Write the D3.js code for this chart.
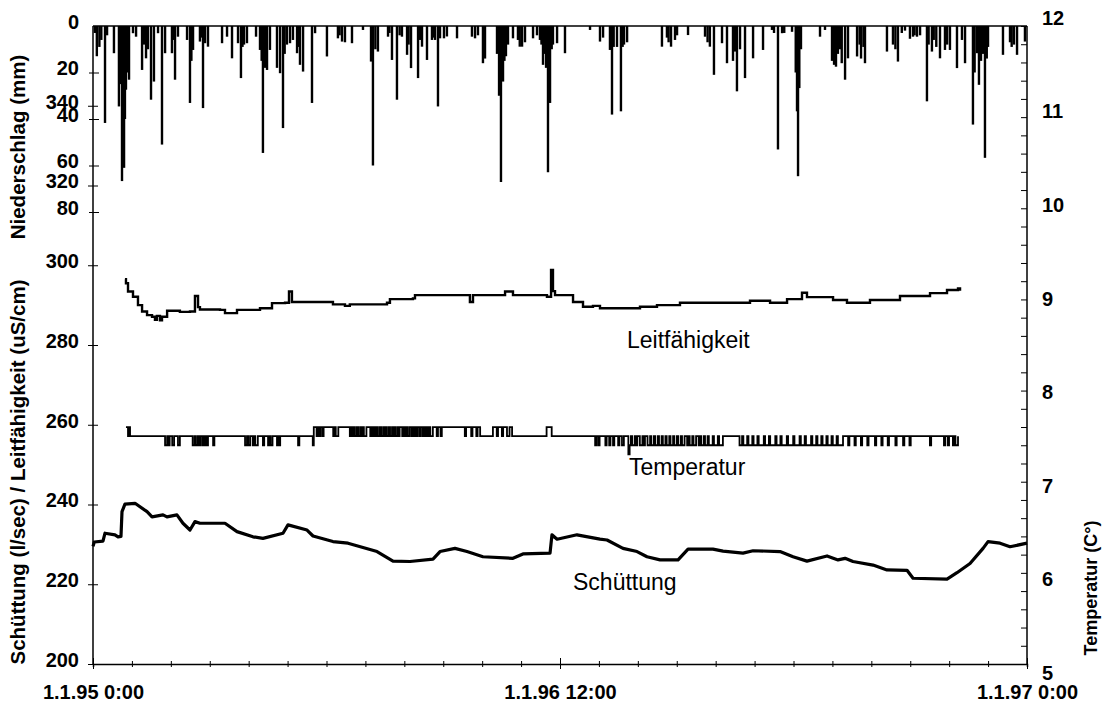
<!DOCTYPE html>
<html>
<head>
<meta charset="utf-8">
<script src="https://cdn.jsdelivr.net/npm/d3@7"></script>
<style>
  body { margin: 0; background: #fff; }
  text { font-family: "Liberation Sans", Arial, sans-serif; fill: #000; }
  .axis text { font-size: 20px; font-weight: bold; }
  .axis path, .axis line { stroke: #000; }
</style>
</head>
<body>
<svg id="chart"></svg>
<script>
// day offsets since 1.1.95 0:00
var xTickLabels = [[0, "1.1.95 0:00"], [365.5, "1.1.96 12:00"], [731, "1.1.97 0:00"]];
var leftTicks = [200, 220, 240, 260, 280, 300, 320, 340];
var precipTicks = [0, 20, 40, 60, 80];
var tempTicks = [5, 6, 7, 8, 9, 10, 11, 12];

// Niederschlag (mm): [day, mm]
var precipitation = [
  [1.5, 3], [3, 13], [5, 9], [6.5, 6], [9.4, 41.7], [11, 4], [16.4, 11.7], [20.3, 34.6], [21.5, 25],
  [22.7, 66.7], [23.5, 50], [24.3, 61], [25, 40], [25.8, 27.4], [27, 20], [28.2, 23.1], [31.3, 3.1],
  [33.7, 4.6], [38.4, 18.9], [40, 8], [41.5, 13.9], [43, 10], [45.4, 31.7], [47.7, 23.9], [50.9, 3.1],
  [54, 51], [56.4, 11.7], [61.8, 11.7], [63, 6], [64.2, 23.1], [66.5, 4.6], [73.6, 6], [75.9, 33.1],
  [77, 15], [78.3, 10.3], [83.7, 6.7], [85, 5], [86.1, 35.3], [87.7, 7.4], [90, 8.9], [101, 7.4],
  [104.9, 4.6], [108.8, 13.9], [113.5, 7.4], [115.8, 22.4], [117, 9], [118.2, 8], [120.5, 7.4],
  [127.6, 4.6], [130.7, 10.3], [132, 15], [133, 54.6], [134.5, 18], [136.2, 18.9], [138.5, 10.3],
  [144, 18], [146.4, 20.3], [148.7, 43.9], [150, 12], [151.8, 8], [154.2, 7.4], [156.5, 6],
  [159.7, 11.7], [161, 9], [162, 16.7], [164.4, 19.6], [171.4, 33.1], [173.8, 3.1], [183.1, 13.1],
  [191.7, 5.3], [193, 4], [194.9, 6.7], [197.2, 7], [202.7, 7.4], [211.3, 1.7], [217.6, 15.3],
  [219.1, 60], [221, 10], [223, 11], [230.9, 4.6], [232, 3], [234, 14.6], [237.9, 31.7], [240, 4],
  [241.8, 4.6], [245.8, 12.4], [247, 8], [248.9, 18.1], [254.4, 22.4], [256, 6], [257.5, 8.9],
  [261.4, 14.6], [265.3, 6], [266.5, 5], [267.7, 6], [270, 34.6], [271.6, 5.3], [274.7, 5.3],
  [277, 4.5], [284.9, 5.3], [296.6, 4.6], [299, 5.3], [301.3, 4], [305.2, 16], [306.8, 14],
  [316.2, 12], [317.8, 30], [319.3, 67.1], [320.9, 23.9], [322, 15], [323.2, 13], [324.8, 8],
  [328.7, 5.3], [332.6, 6], [334, 8.9], [335.8, 8.9], [338.1, 7], [344.4, 5.3], [347.5, 4],
  [349.8, 6], [351, 8], [352.2, 16.7], [353.5, 12], [354.6, 18], [356.1, 62.9], [357.7, 33.1],
  [359, 10], [360, 8], [363.2, 7.4], [369.4, 11.7], [389, 1.7], [396.8, 6.7], [399.2, 5],
  [404.6, 10.3], [406.2, 38.1], [407.5, 9], [410.1, 9], [413.2, 36.7], [414.5, 9], [415.6, 8],
  [418, 7], [445.3, 8.9], [449.2, 5], [450.5, 7], [452.4, 8.9], [455.5, 6], [457.1, 4], [465.7, 3.9],
  [479, 4.6], [481, 7], [482.8, 8.9], [486, 21], [492.3, 7.4], [496.2, 16], [500.9, 15], [502.5, 11],
  [504, 28.1], [506.4, 10], [510.3, 22.4], [516.6, 13.9], [524.4, 10.3], [531.4, 1.7], [533, 3],
  [536.1, 53.1], [539.3, 3.1], [541, 3], [547.1, 2.5], [550, 20], [551, 36.7], [551.8, 64.6],
  [552.8, 26.7], [554.1, 10], [569, 4.6], [572.9, 1.7], [578.4, 15], [580, 16.7], [581.5, 17.5],
  [583, 12], [584.6, 10], [586, 16], [588.6, 23.1], [590.9, 13.9], [598, 13.1], [600, 8], [601.1, 14],
  [603, 9], [604.2, 16], [621.4, 11], [626.1, 8], [628, 10], [630, 15.3], [633, 3], [635.5, 2],
  [639.4, 5.5], [641.8, 4.6], [643, 4], [644.9, 4.6], [647.3, 4], [652.7, 32.4], [654, 8],
  [656.6, 11], [658, 6], [660, 9], [662.9, 13.9], [666.8, 10.3], [668.5, 8], [670.7, 10.3],
  [676.2, 18.1], [680.1, 6], [682.5, 16], [688.7, 42.4], [690, 20], [691.9, 11.7], [693.4, 25.3],
  [695, 15], [696.5, 12], [698.1, 56.7], [699.5, 14], [700.5, 9], [712.2, 12.4], [717.7, 7],
  [719, 9], [720.8, 8], [723.2, 12.4], [729.4, 6.7]
];

// Leitfähigkeit (uS/cm): [day, value]
var conductivity = [
  [25, 296.5], [25.8, 295.5], [27.4, 293.4], [31.3, 292.1], [35.2, 290], [38.4, 288.4], [42.3, 287.5],
  [46.2, 287.1], [48.5, 286.3], [50, 287.3], [52.4, 286.2], [54, 287.1], [58, 288.6], [68, 288.3],
  [75.9, 288.4], [79.8, 292.3], [82.2, 289.5], [83.7, 288.9], [99.4, 288.8], [103.3, 288],
  [112.7, 288.8], [130.7, 289.2], [140.1, 290.5], [150.3, 290.6], [153.4, 293.4], [155.7, 290.8],
  [187.8, 290.2], [197.2, 289.8], [201, 290.2], [230.1, 290.6], [232.4, 291.5], [250.4, 291.7],
  [252, 292.5], [292.7, 292.5], [295, 290.8], [297.4, 292.5], [322.5, 293.4], [328.7, 292.5],
  [355.3, 292.1], [358.5, 298.8], [360, 293.5], [361.6, 292.5], [375.7, 290.8], [383.5, 289.6],
  [391.3, 289.8], [396.8, 289.2], [420.3, 289.2], [428.1, 289.6], [441.4, 290], [459.4, 290.6],
  [511.9, 290.6], [514.2, 291.1], [529.9, 290.6], [543.2, 291.5], [553.4, 291.5], [554.9, 293.1],
  [558.8, 292], [579.2, 291.3], [590.1, 290.6], [608.1, 291.3], [631.6, 292.3], [655.1, 293],
  [668.4, 293.8], [677, 294.2], [678.6, 293.6]
];

// Temperatur (°C): [day, value] step changes
var temperature = [
  [25.8, 7.6], [27.4, 7.5], [28.2, 7.6], [29, 7.5], [56.4, 7.4], [58, 7.5], [59, 7.4], [60, 7.5],
  [62, 7.4], [63.5, 7.5], [66.5, 7.4], [68, 7.5], [78, 7.4], [79.5, 7.5], [80.5, 7.4], [82, 7.5],
  [83, 7.4], [84, 7.5], [85.5, 7.4], [86.5, 7.5], [87, 7.4], [88, 7.5], [89, 7.4], [90, 7.5],
  [94, 7.4], [95, 7.5], [119, 7.4], [120.5, 7.5], [121.5, 7.4], [123, 7.5], [125, 7.4], [126, 7.5],
  [127, 7.4], [129, 7.5], [133, 7.4], [134, 7.5], [137, 7.4], [138, 7.5], [139, 7.4], [140.5, 7.5],
  [144, 7.4], [145, 7.5], [145.5, 7.4], [146.5, 7.5], [160.5, 7.4], [161.5, 7.5], [172, 7.4],
  [172.8, 7.6], [175, 7.5], [176, 7.6], [177, 7.5], [178, 7.6], [179.5, 7.5], [180.5, 7.6],
  [188, 7.5], [189, 7.6], [190, 7.5], [192, 7.6], [201, 7.5], [202, 7.6], [203, 7.5], [204, 7.6],
  [205, 7.5], [206.5, 7.6], [207.5, 7.5], [209, 7.6], [210, 7.5], [211, 7.6], [212, 7.5], [214, 7.6],
  [217, 7.5], [218, 7.6], [219, 7.5], [220, 7.6], [221, 7.5], [222, 7.6], [223, 7.5], [224.5, 7.6],
  [225.5, 7.5], [227, 7.6], [228, 7.5], [229, 7.6], [230, 7.5], [231.5, 7.6], [232.5, 7.5],
  [234, 7.6], [235, 7.5], [236, 7.6], [237, 7.5], [238.5, 7.6], [239, 7.5], [240, 7.6], [242, 7.5],
  [243, 7.6], [244, 7.5], [245, 7.6], [246, 7.5], [247.5, 7.6], [249, 7.5], [250, 7.6], [251, 7.5],
  [252, 7.6], [253, 7.5], [254, 7.6], [255.5, 7.5], [256.5, 7.6], [258, 7.5], [259, 7.6], [260, 7.5],
  [261, 7.6], [262, 7.5], [263, 7.6], [264, 7.5], [266, 7.6], [269, 7.5], [270, 7.6], [272, 7.5],
  [273, 7.6], [291, 7.5], [292, 7.6], [296, 7.5], [297, 7.6], [300, 7.5], [301, 7.6], [303, 7.5],
  [313, 7.6], [316, 7.5], [317, 7.6], [320, 7.5], [321, 7.6], [324, 7.5], [326, 7.6], [328, 7.5],
  [355, 7.6], [359, 7.5], [393, 7.4], [394, 7.5], [395.5, 7.4], [396.5, 7.5], [401, 7.4], [402, 7.5],
  [404, 7.4], [405, 7.5], [407, 7.4], [408, 7.5], [411, 7.4], [412, 7.5], [414, 7.4], [415.5, 7.5],
  [419, 7.3], [420, 7.4], [421, 7.5], [422, 7.4], [424, 7.5], [425, 7.4], [426, 7.5], [428, 7.4],
  [430, 7.5], [431, 7.4], [432, 7.5], [434, 7.4], [436, 7.5], [437, 7.4], [439, 7.5], [440, 7.4],
  [442, 7.5], [443, 7.4], [445, 7.5], [446, 7.4], [448, 7.5], [449, 7.4], [451, 7.5], [452, 7.4],
  [454, 7.5], [455, 7.4], [457, 7.5], [458, 7.4], [460, 7.5], [461, 7.4], [463, 7.5], [465, 7.4],
  [466, 7.5], [467, 7.4], [469, 7.5], [470, 7.4], [472, 7.5], [474, 7.4], [475, 7.5], [476, 7.4],
  [478, 7.5], [479, 7.4], [481, 7.5], [482, 7.4], [485, 7.5], [486, 7.4], [489, 7.5], [490, 7.4],
  [493, 7.5], [506, 7.4], [508, 7.5], [509, 7.4], [512, 7.5], [513, 7.4], [516, 7.5], [517, 7.4],
  [520, 7.5], [521, 7.4], [525, 7.5], [526, 7.4], [529, 7.5], [530, 7.4], [534, 7.5], [535, 7.4],
  [538, 7.5], [539, 7.4], [543, 7.5], [544, 7.4], [548, 7.5], [549, 7.4], [553, 7.5], [554, 7.4],
  [557, 7.5], [558, 7.4], [562, 7.5], [563, 7.4], [566, 7.5], [567, 7.4], [570, 7.5], [571, 7.4],
  [574, 7.5], [575, 7.4], [578, 7.5], [579, 7.4], [582, 7.5], [583, 7.4], [587, 7.5], [591, 7.4],
  [592, 7.5], [596, 7.4], [597, 7.5], [601, 7.4], [602, 7.5], [606, 7.4], [607, 7.5], [612, 7.4],
  [613, 7.5], [617, 7.4], [618, 7.5], [622, 7.4], [623, 7.5], [628, 7.4], [629, 7.5], [634, 7.4],
  [635, 7.5], [639, 7.4], [640, 7.5], [655, 7.4], [656, 7.5], [666, 7.4], [667, 7.5], [669, 7.4],
  [670, 7.5], [673, 7.4], [674, 7.5], [675, 7.4], [677, 7.5]
];

// Schüttung (l/sec): [day, value]
var discharge = [
  [0, 229.5], [1, 230.6], [7.8, 230.8], [9.4, 232.8], [17.2, 232.4], [19.6, 231.9], [21.9, 232],
  [22.7, 238.2], [25, 240.1], [32.9, 240.3], [42.3, 238.2], [46.2, 236.9], [54.8, 237.4],
  [57.9, 236.9], [65.7, 237.4], [70.4, 235.3], [75.9, 233.6], [79.8, 235.7], [83.7, 235.3],
  [103.3, 235.3], [112.7, 233.2], [125.2, 231.9], [133, 231.5], [148.7, 232.8], [152.6, 234.9],
  [167.5, 233.6], [172.2, 232.1], [187.8, 230.7], [199.6, 230.3], [222.3, 228.2], [234.8, 225.8],
  [248.1, 225.7], [266.1, 226.3], [271.6, 228.2], [283.3, 229], [292.7, 228.2], [305.2, 226.9],
  [328.7, 226.5], [336.5, 227.6], [357.7, 227.8], [359.2, 232.4], [363.2, 231.3], [378.8, 232.4],
  [396.8, 231.3], [402.3, 231.1], [414.8, 229], [425.8, 228.2], [433.6, 226.9], [443.8, 226.1],
  [457.9, 226.1], [465.7, 228.8], [485.2, 228.8], [493.1, 228.3], [508.7, 227.8], [516.6, 228.4],
  [537.7, 228.2], [547.9, 226.9], [558.8, 225.8], [574.5, 227.1], [583.1, 226.1], [588.6, 226.5],
  [594.8, 225.7], [610.5, 224.8], [621.4, 223.6], [637.1, 223.5], [641.8, 221.5], [668.4, 221.3],
  [676.2, 222.9], [686.4, 225.2], [696.6, 229], [700.5, 230.7], [709.9, 230.3], [717.7, 229.4],
  [731, 230.3]
];

var width = 1108, height = 703;
var plot = { left: 93, right: 1027, top: 26, bottom: 664 };

var svg = d3.select("#chart").attr("width", width).attr("height", height);

var x = d3.scaleLinear().domain([0, 731]).range([plot.left, plot.right]);
var yLeft = d3.scaleLinear().domain([200, 360]).range([plot.bottom, plot.top]);
var yPrecip = d3.scaleLinear().domain([0, 80]).range([plot.top, 212]);
var yTemp = d3.scaleLinear().domain([5, 12]).range([plot.bottom, plot.top]);
// the temperature labels in the original sit a little apart from their ticks
var yTempLabel = d3.scaleLinear().domain([5, 12]).range([673, 18]);

// precipitation bars hanging from the top
svg.append("g").selectAll("rect")
  .data(precipitation)
  .enter().append("rect")
  .attr("x", function(d) { return x(d[0]) - 1.2; })
  .attr("width", 2.4)
  .attr("y", yPrecip(0))
  .attr("height", function(d) { return yPrecip(d[1]) - yPrecip(0); })
  .attr("fill", "#000");

svg.append("line")
  .attr("x1", x(0)).attr("x2", x(731))
  .attr("y1", yPrecip(0)).attr("y2", yPrecip(0))
  .attr("stroke", "#000").attr("stroke-width", 1.5);

// bottom axis
var minorX = d3.range(0, 25).map(function(i) { return i * 731 / 24; });
var xAxisG = svg.append("g").attr("class", "axis")
  .attr("transform", "translate(0," + plot.bottom + ")")
  .call(d3.axisBottom(x).tickValues(minorX).tickSize(3).tickFormat(""));
xAxisG.selectAll(".tick line").attr("y1", -3);
xAxisG.select(".domain").attr("stroke-width", 1.5);

svg.append("g").attr("class", "axis")
  .attr("transform", "translate(0," + plot.bottom + ")")
  .call(d3.axisBottom(x).tickValues(xTickLabels.map(function(d) { return d[0]; }))
    .tickSize(5).tickPadding(12)
    .tickFormat(function(v) { return xTickLabels.find(function(d) { return d[0] === v; })[1]; }))
  .call(function(g) { g.select(".domain").remove(); })
  .call(function(g) { g.selectAll(".tick line").attr("y1", -6); })
  .selectAll("text").attr("dy", "0.9em");

// left axis (Schüttung / Leitfähigkeit)
var leftG = svg.append("g").attr("class", "axis")
  .attr("transform", "translate(" + plot.left + ",0)")
  .call(d3.axisLeft(yLeft).tickValues(leftTicks).tickSize(5).tickPadding(9));
leftG.selectAll(".tick line").attr("x2", -5).attr("x1", 5);
leftG.selectAll(".tick text").attr("dy", "0.12em");
leftG.select(".domain").attr("d", "M0," + plot.top + "V" + plot.bottom).attr("stroke-width", 1.5);

// precipitation axis on the same side
var precipG = svg.append("g").attr("class", "axis")
  .attr("transform", "translate(" + plot.left + ",0)")
  .call(d3.axisLeft(yPrecip).tickValues(precipTicks).tickSize(5).tickPadding(9));
precipG.select(".domain").remove();
precipG.selectAll(".tick line").attr("x1", 6).attr("x2", -4);
precipG.selectAll(".tick text").attr("dy", "0.12em");
precipG.selectAll(".tick").filter(function(d) { return d === 0; }).select("line").remove();

// right axis (Temperatur)
var rightG = svg.append("g").attr("class", "axis")
  .attr("transform", "translate(" + plot.right + ",0)")
  .call(d3.axisRight(yTemp).tickValues(d3.range(5, 12.01, 0.2)).tickSize(0).tickFormat(""));
rightG.selectAll(".tick line").attr("x2", -6);
rightG.select(".domain").attr("d", "M0," + plot.top + "V" + plot.bottom).attr("stroke-width", 1.5);

svg.append("g").attr("class", "axis")
  .attr("transform", "translate(" + plot.right + ",0)")
  .call(d3.axisRight(yTempLabel).tickValues(tempTicks).tickSize(0).tickPadding(15).tickFormat(d3.format("d")))
  .call(function(g) { g.select(".domain").remove(); });

// series lines
var lineLeft = d3.line()
  .x(function(d) { return x(d[0]); })
  .y(function(d) { return yLeft(d[1]); })
  .curve(d3.curveStepAfter);

svg.append("path")
  .datum(conductivity)
  .attr("d", lineLeft)
  .attr("fill", "none").attr("stroke", "#000").attr("stroke-width", 2.4);

svg.append("path")
  .datum(temperature)
  .attr("d", d3.line()
    .x(function(d) { return x(d[0]); })
    .y(function(d) { return yTemp(d[1]); })
    .curve(d3.curveStepAfter))
  .attr("fill", "none").attr("stroke", "#000").attr("stroke-width", 1.8);

svg.append("path")
  .datum(discharge)
  .attr("d", d3.line()
    .x(function(d) { return x(d[0]); })
    .y(function(d) { return yLeft(d[1]); }))
  .attr("fill", "none").attr("stroke", "#000").attr("stroke-width", 3.2)
  .attr("stroke-linejoin", "round");

// series labels
var seriesLabels = [
  { text: "Leitfähigkeit", x: 627, y: 348 },
  { text: "Temperatur", x: 629, y: 475 },
  { text: "Schüttung", x: 573, y: 590 }
];
svg.selectAll(".series-label")
  .data(seriesLabels)
  .enter().append("text")
  .attr("class", "series-label")
  .attr("x", function(d) { return d.x; })
  .attr("y", function(d) { return d.y; })
  .style("font-size", "23px")
  .text(function(d) { return d.text; });

// axis titles
svg.append("text")
  .attr("transform", "translate(25,147) rotate(-90)")
  .attr("text-anchor", "middle")
  .style("font-size", "20.5px").style("font-weight", "bold")
  .text("Niederschlag (mm)");

svg.append("text")
  .attr("transform", "translate(25,472) rotate(-90)")
  .attr("text-anchor", "middle")
  .style("font-size", "20.5px").style("font-weight", "bold")
  .text("Schüttung (l/sec) / Leitfähigkeit (uS/cm)");

svg.append("text")
  .attr("transform", "translate(1097,588) rotate(-90)")
  .attr("text-anchor", "middle")
  .style("font-size", "18px").style("font-weight", "bold")
  .text("Temperatur (C°)");
</script>
</body>
</html>
